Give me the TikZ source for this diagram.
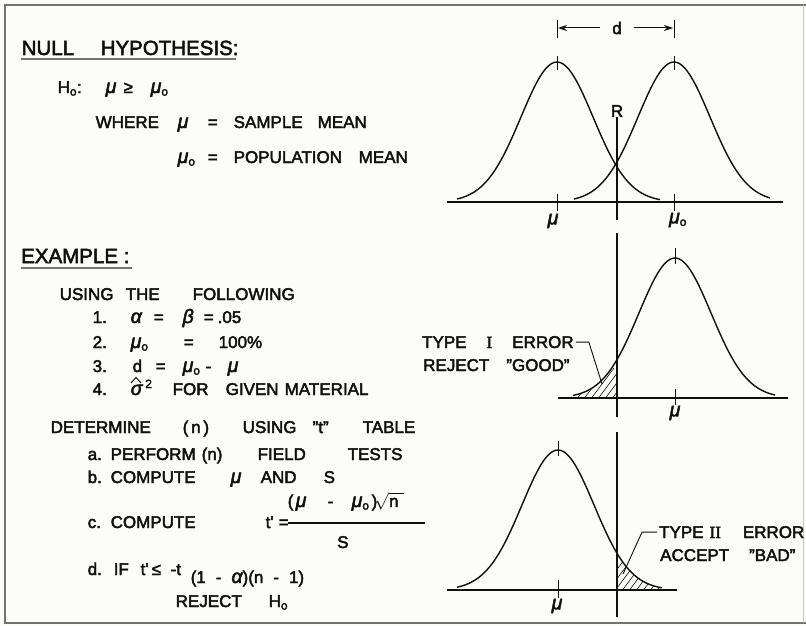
\documentclass[tikz,border=0pt]{standalone}
\usepackage{fontspec}
\setmainfont{Liberation Sans}[FakeBold=2.5]
\newfontfamily\romanI{Liberation Serif}[FakeBold=2.5]
\usepackage{tikz}
\usetikzlibrary{
    arrows.meta
}

\definecolor{paper}{RGB}{252,253,248}
\definecolor{ink}{RGB}{15,15,15}
\definecolor{rulegray}{RGB}{115,115,115}

\newcommand{\bodyfont}{\fontsize{17}{20}\selectfont}
\newcommand{\headfont}{\fontsize{20.5}{24}\selectfont}
\newcommand{\putat}[2]{\makebox[0pt][l]{\hspace*{#1pt}#2}}
\newcommand{\greek}[1]{{\fontsize{19.5}{20}\selectfont\itshape #1}}
\newcommand{\gmu}{\greek{μ}}
\newcommand{\muo}{\gmu\textsubscript{o}}

\begin{document}
\begin{tikzpicture}[x=1pt, y=-1pt,
        txt/.style={anchor=base west, inner sep=0pt, text=ink, font=\bodyfont},
        head/.style={anchor=base west, inner sep=0pt, text=ink, font=\headfont},
        lab/.style={inner sep=0pt, text=ink, font=\bodyfont},
        curve/.style={draw=ink, line width=1.4pt},
        axis/.style={draw=ink, line width=1.2pt},
        ext/.style={draw=ink, line width=1pt},
        lead/.style={draw=ink, line width=0.9pt},
        dim/.style={draw=ink, line width=1pt, -{Stealth[length=9pt, width=6pt]}},
        hatch/.style={draw=ink, line width=0.6pt},
        underline/.style={draw=rulegray, line width=2.5pt},
        declare function={bell(\t)=140*exp(-(\t*\t)/2600);}
      ]

      % sheet and frame
      \fill[paper] (0,0) rectangle (806,626);
      \useasboundingbox (0,0) rectangle (806,626);
      \draw[rulegray, line width=2.5pt] (806,5) -- (5,5) -- (5,623) -- (806,623);
      \draw[rulegray!40, line width=1pt] (803,5) -- (803,623);

      % null hypothesis
      \node[head] (nullhead) at (21,55) {\putat{0}{NULL}\putat{79}{HYPOTHESIS:}};
      \draw[underline] (21,59) -- (236,59);
      \node[txt] (hyp) at (57,93) {\putat{0}{H\textsubscript{o}:}\putat{48}{\gmu}\putat{66}{≥}\putat{93}{\muo}};
      \node[txt] (where) at (95,128) {\putat{0}{WHERE}\putat{82}{\gmu}\putat{112}{=}\putat{138}{SAMPLE}\putat{222}{MEAN}};
      \node[txt] (popmean) at (177,163) {\putat{0}{\muo}\putat{30}{=}\putat{56}{POPULATION}\putat{181}{MEAN}};

      % example
      \node[head] (exhead) at (21,263) {EXAMPLE :};
      \draw[underline] (21,268) -- (132,268);
      \node[txt] (using) at (59,300) {\putat{0}{USING}\putat{66}{THE}\putat{133}{FOLLOWING}};
      \node[txt] (itema) at (92,323) {\putat{0}{1.}\putat{38}{\greek{α}}\putat{61}{=}\putat{90}{\greek{β}}\putat{111}{=}\putat{125}{.05}};
      \node[txt] (itemb) at (92,348) {\putat{0}{2.}\putat{38}{\muo}\putat{91}{=}\putat{126}{100\%}};
      \node[txt] (itemc) at (92,372) {\putat{0}{3.}\putat{40}{d}\putat{63}{=}\putat{90}{\muo}\putat{113}{-}\putat{135}{\gmu}};
      \node[txt] (itemd) at (92,395) {\putat{0}{4.}\putat{38}{\greek{σ}\,\raisebox{7pt}{\fontsize{12}{12}\selectfont 2}}\putat{80}{FOR}\putat{133}{GIVEN}\putat{192}{MATERIAL}};
      \draw[ext] (131,383) -- (136,377.5) -- (141,383);

      \node[txt] (determine) at (50,433) {\putat{0}{DETERMINE}\putat{132}{(\,n\,)}\putat{192}{USING}\putat{262}{"t"}\putat{312}{TABLE}};
      \node[txt] (stepa) at (87,460) {\putat{0}{a.}\putat{23}{PERFORM}\putat{114}{(n)}\putat{170}{FIELD}\putat{260}{TESTS}};
      \node[txt] (stepb) at (87,483) {\putat{0}{b.}\putat{23}{COMPUTE}\putat{143}{\gmu}\putat{173}{AND}\putat{236}{S}};
      \node[txt] (stepc) at (87,528) {\putat{0}{c.}\putat{23}{COMPUTE}\putat{178}{t\textquotesingle}\putat{191}{=}};
      \node[txt] (numer) at (285,507) {\putat{2}{(}\putat{10}{\gmu}\putat{42}{-}\putat{66}{\muo}\putat{86}{)}\putat{89}{$\sqrt{\mbox{n\,\,}}$}};
      \draw[axis] (288,523) -- (425,523);
      \node[txt] (denom) at (337,548) {S};
      \node[txt] (stepd) at (87,575) {\putat{0}{d.}\putat{26}{IF}\putat{53}{t\textquotesingle}\putat{64}{≤}\putat{83}{-t}%
        \putat{103}{\raisebox{-8pt}{(1\hspace{10pt}-\hspace{10pt}\greek{α})(n\hspace{10pt}-\hspace{10pt}1)}}};
      \node[txt] (reject) at (175,607) {\putat{0}{REJECT}\putat{93}{H\textsubscript{o}}};

      % two populations a distance d apart
      \draw[curve] plot[domain=-100:103, samples=70] ({557+\x},{202-bell(\x)});
      \draw[curve] plot[domain=-100:96, samples=70] ({674+\x},{202-bell(\x)});
      \draw[axis] (447,202) -- (783,202);
      \draw[ext] (557,20) -- (557,38);
      \draw[ext] (674,20) -- (674,38);
      \draw[ext] (557,56) -- (557,70);
      \draw[ext] (674,56) -- (674,70);
      \draw[ext] (557,194) -- (557,211);
      \draw[ext] (674,194) -- (674,211);
      \node[lab, inner xsep=12pt] (dlab) at (617,28) {d};
      \coordinate (dimL) at (558,28);
      \coordinate (dimR) at (673,28);
      \draw[dim] (dlab) -- (dimL);
      \draw[dim] (dlab) -- (dimR);
      \node[lab] (rlab) at (617,111) {R};
      \coordinate (rfoot) at (617,220);
      \draw[axis] (rlab) -- (rfoot);
      \node[lab] (mua) at (553,221) {\gmu};
      \node[lab] (muob) at (678,220) {\muo};

      % type I error
      \begin{scope}
        \clip plot[domain=-102:-58] ({675+\x},{398-bell(\x)}) -- (617,398) -- (573,398) -- cycle;
        \foreach \k in {0,...,11}
          \draw[hatch] ({552+7*\k},404) -- ++(27,-36);
      \end{scope}
      \draw[curve] plot[domain=-102:100, samples=70] ({675+\x},{398-bell(\x)});
      \draw[axis] (558,398) -- (788,398);
      \draw[axis] (617,233) -- (617,417);
      \draw[ext] (675,248) -- (675,264);
      \draw[ext] (675,389) -- (675,405);
      \node[lab] (muc) at (675,413) {\gmu};
      \node[lab, anchor=base west] (typeone) at (422,348) {TYPE\hspace{20pt}{\romanI I}\hspace{20pt}ERROR};
      \node[lab, anchor=base west] (rejgood) at (423,371) {REJECT\hspace{17pt}"GOOD"};
      \coordinate (hatchone) at (602,384);
      \draw[lead] ([xshift=2pt]typeone.east) -- ++(13,0) -- (hatchone);

      % type II error
      \begin{scope}
        \clip plot[domain=59:104] ({558+\x},{590-bell(\x)}) -- (662,590) -- (617,590) -- cycle;
        \foreach \k in {0,...,11}
          \draw[hatch] ({597+7*\k},596) -- ++(27,-36);
      \end{scope}
      \draw[curve] plot[domain=-101:104, samples=70] ({558+\x},{590-bell(\x)});
      \draw[axis] (447,590) -- (677,590);
      \draw[axis] (617,432) -- (617,617);
      \draw[ext] (558,441) -- (558,456);
      \draw[ext] (558,580) -- (558,598);
      \node[lab] (mud) at (557,606) {\gmu};
      \node[lab, anchor=base west] (typetwo) at (659,538) {TYPE\hspace{6pt}{\romanI II}\hspace{22pt}ERROR};
      \node[lab, anchor=base west] (acceptbad) at (660,561) {ACCEPT\hspace{20pt}"BAD"};
      \coordinate (hatchtwo) at (623,574);
      \draw[lead] ([xshift=-2pt]typetwo.west) -- ++(-15,0) -- (hatchtwo);
    \end{tikzpicture}
\end{document}
